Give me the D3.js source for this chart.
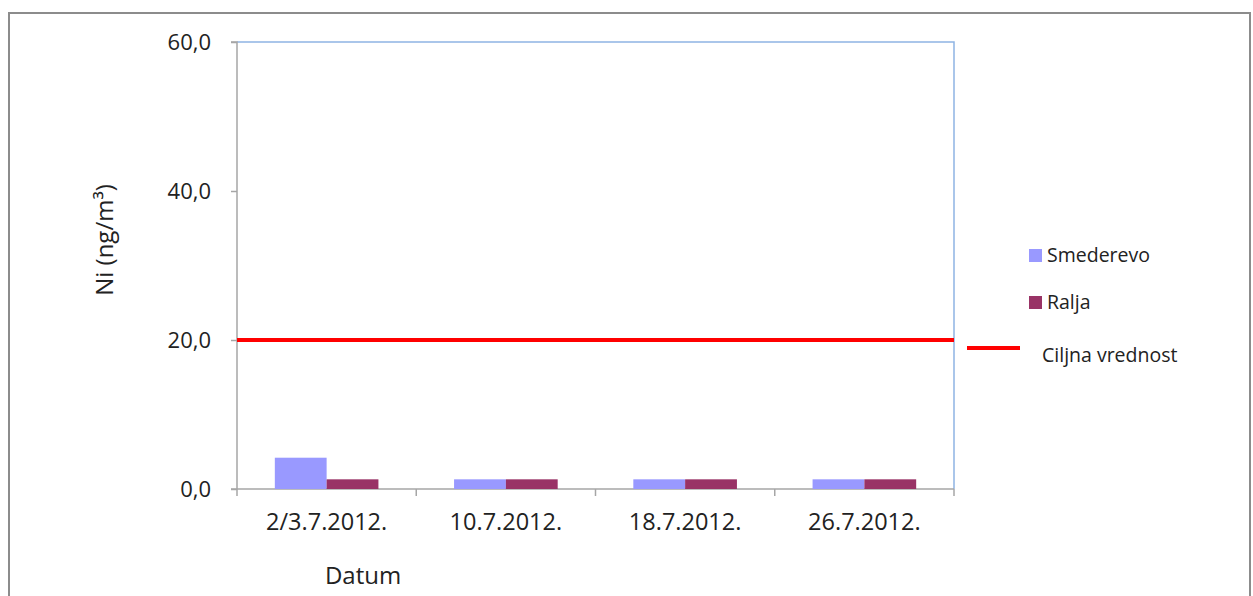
<!DOCTYPE html>
<html lang="sr">
<head>
<meta charset="UTF-8">
<title>Ni</title>
<script src="https://cdn.jsdelivr.net/npm/d3@7"></script>
<style>
  body { margin: 0; background: #fff; }
  text { font-family: "Open Sans", sans-serif; fill: #222; }
</style>
</head>
<body>
<svg width="1253" height="596"></svg>
<script>
// podaci
var categories = ["2/3.7.2012.", "10.7.2012.", "18.7.2012.", "26.7.2012."];
var seriesNames = ["Smederevo", "Ralja"];
var smederevo = [4.2, 1.3, 1.3, 1.3];
var ralja = [1.3, 1.3, 1.3, 1.3];
var targetValue = 20;
var targetName = "Ciljna vrednost";
var yTicks = [0, 20, 40, 60];
var colors = ["#9999FF", "#993366"];

(function () {
    var svg = d3.select("svg");

    // okvir grafikona
    svg.append("path")
        .attr("d", "M9,596 V13 H1250 V596")
        .attr("fill", "none")
        .attr("stroke", "#8c8c8c")
        .attr("stroke-width", 2);

    var pLeft = 237, pRight = 954, pTop = 42, pBottom = 489;

    var x = d3.scaleBand().domain(categories).range([pLeft, pRight]);
    var y = d3.scaleLinear().domain([0, 60]).range([pBottom, pTop]);

    // ivica oblasti crtanja
    svg.append("path")
        .attr("d", "M" + pLeft + "," + pTop + " H" + pRight + " V" + pBottom)
        .attr("fill", "none")
        .attr("stroke", "#8eb4e3")
        .attr("stroke-width", 1.5);

    // y osa
    var yAxis = svg.append("g")
        .attr("transform", "translate(" + pLeft + ",0)")
        .call(d3.axisLeft(y).tickValues(yTicks).tickSize(6).tickPadding(20)
            .tickFormat(function (d) { return d3.format(".1f")(d).replace(".", ","); }));
    yAxis.selectAll("line, path").attr("stroke", "#a6a6a6").attr("stroke-width", 1.5);
    yAxis.select(".domain").attr("d", "M-6," + pTop + "H0V" + pBottom);
    yAxis.selectAll("text").style("font-size", "22px").attr("fill", "#222");

    // x osa
    var xAxis = svg.append("g")
        .attr("transform", "translate(0," + pBottom + ")")
        .call(d3.axisBottom(x).tickSize(0).tickPadding(24));
    xAxis.selectAll("path").attr("stroke", "#a6a6a6").attr("stroke-width", 1.5);
    xAxis.select(".domain").attr("d", "M" + (pLeft - 6) + ",0H" + pRight);
    xAxis.selectAll("text").style("font-size", "23.5px").attr("fill", "#222");
    xAxis.selectAll(".sep")
        .data(categories.map(function (c) { return x(c); }).concat([pRight]))
        .enter().append("line")
        .attr("x1", function (d) { return d; })
        .attr("x2", function (d) { return d; })
        .attr("y1", 0).attr("y2", 7)
        .attr("stroke", "#a6a6a6").attr("stroke-width", 1.5);

    // stubici
    var xs = d3.scaleBand().domain(seriesNames).range([0, x.bandwidth()]).paddingOuter(0.73);
    var series = [smederevo, ralja];
    series.forEach(function (vals, si) {
        svg.append("g").selectAll("rect")
            .data(vals)
            .enter().append("rect")
            .attr("x", function (d, i) { return x(categories[i]) + xs(seriesNames[si]); })
            .attr("width", xs.bandwidth())
            .attr("y", function (d) { return y(d); })
            .attr("height", function (d) { return pBottom - y(d); })
            .attr("fill", colors[si]);
    });

    // ciljna vrednost
    svg.append("line")
        .attr("x1", pLeft).attr("x2", pRight)
        .attr("y1", y(targetValue)).attr("y2", y(targetValue))
        .attr("stroke", "#ff0000").attr("stroke-width", 4);

    // naslovi osa
    svg.append("text")
        .attr("transform", "translate(113,240) rotate(-90)")
        .attr("text-anchor", "middle")
        .style("font-size", "24px")
        .text("Ni (ng/m³)");
    svg.append("text")
        .attr("x", 363).attr("y", 584)
        .attr("text-anchor", "middle")
        .style("font-size", "24px")
        .text("Datum");

    // legenda
    var lg = svg.append("g");
    seriesNames.forEach(function (n, i) {
        var cy = 255 + i * 47;
        lg.append("rect").attr("x", 1029).attr("y", cy - 6).attr("width", 13).attr("height", 13).attr("fill", colors[i]);
        lg.append("text").attr("x", 1047).attr("y", cy + 7).style("font-size", "19.5px").text(n);
    });
    lg.append("line").attr("x1", 967).attr("x2", 1020).attr("y1", 348).attr("y2", 348)
        .attr("stroke", "#ff0000").attr("stroke-width", 4);
    lg.append("text").attr("x", 1042).attr("y", 362).style("font-size", "19.5px").text(targetName);
})();
</script>
</body>
</html>
